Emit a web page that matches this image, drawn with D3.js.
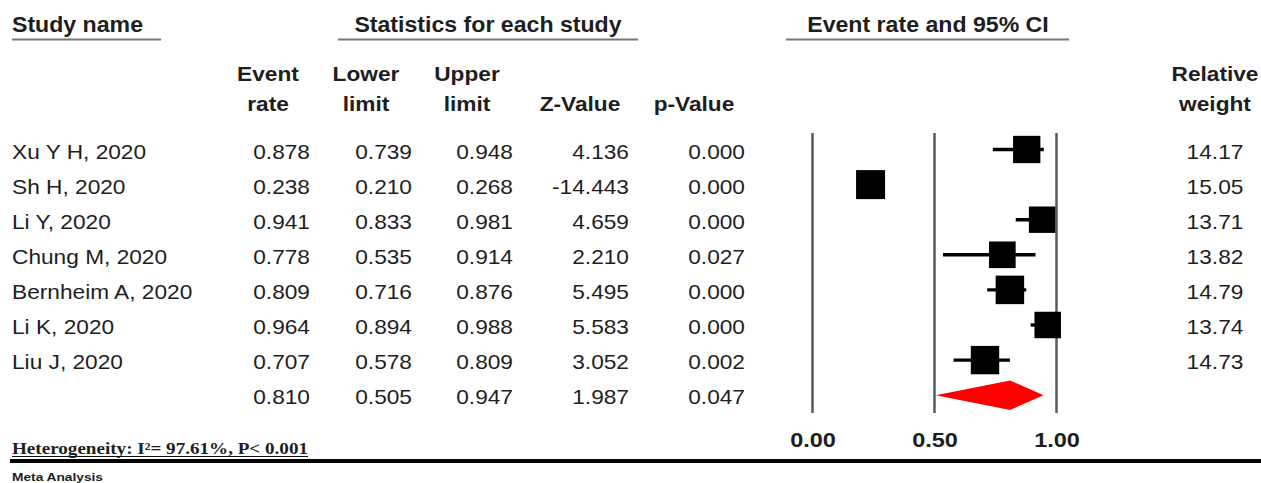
<!DOCTYPE html>
<html><head><meta charset="utf-8">
<script src="https://cdn.jsdelivr.net/npm/d3@7"></script>
<style>
html,body{margin:0;padding:0;background:#fff;}
svg{display:block;}
text{font-family:"Liberation Sans",Arial,sans-serif;fill:#1e1e1e;}
</style></head>
<body>
<script>
const studies = ["Xu Y H, 2020","Sh H, 2020","Li Y, 2020","Chung M, 2020","Bernheim A, 2020","Li K, 2020","Liu J, 2020"];
const eventRate = [0.878,0.238,0.941,0.778,0.809,0.964,0.707];
const lowerLimit = [0.739,0.210,0.833,0.535,0.716,0.894,0.578];
const upperLimit = [0.948,0.268,0.981,0.914,0.876,0.988,0.809];
const zValue = [4.136,-14.443,4.659,2.210,5.495,5.583,3.052];
const pValue = [0.000,0.000,0.000,0.027,0.000,0.000,0.002];
const weight = [14.17,15.05,13.71,13.82,14.79,13.74,14.73];
const summary = {rate:0.810, lower:0.505, upper:0.947, z:1.987, p:0.047};
const axisTicks = [0.00,0.50,1.00];
const heterogeneity = "Heterogeneity: I\u00B2= 97.61%, P< 0.001";
const footer = "Meta Analysis";

const W=1261,H=483;
const svg=d3.select("body").append("svg").attr("width",W).attr("height",H);

const x=d3.scaleLinear().domain([0,1]).range([812.5,1056.5]);
const rowY=d3.scaleLinear().domain([0,7]).range([149.5,395.2]);
const boxSize=d3.scaleLinear().domain([0,15.05]).range([0,29]);
const fmt3=v=>d3.format(".3f")(v).replace("\u2212","-");

function stretch(sel,k){
  sel.each(function(){
    const L=this.getComputedTextLength();
    d3.select(this).attr("textLength",L*k).attr("lengthAdjust","spacingAndGlyphs");
  });
}

// section headers
const hdr=[{t:"Study name",x:12,anchor:"start",l1:12,l2:161},
           {t:"Statistics for each study",x:488,anchor:"middle",l1:338,l2:638},
           {t:"Event rate and 95% CI",x:928,anchor:"middle",l1:786,l2:1069}];
hdr.forEach(h=>{
  svg.append("text").attr("class","sh").attr("x",h.x).attr("y",32).attr("text-anchor",h.anchor)
    .style("font-size","21.5px").style("font-weight","bold").text(h.t);
  svg.append("line").attr("x1",h.l1).attr("x2",h.l2).attr("y1",39.5).attr("y2",39.5)
    .attr("stroke","#777").attr("stroke-width",2);
});
stretch(svg.selectAll("text.sh"),1.075);

// column headers
const cols=[{h:["Event","rate"],cx:268,rx:310,vals:eventRate.map(fmt3),s:fmt3(summary.rate)},
            {h:["Lower","limit"],cx:366,rx:412,vals:lowerLimit.map(fmt3),s:fmt3(summary.lower)},
            {h:["Upper","limit"],cx:467,rx:513,vals:upperLimit.map(fmt3),s:fmt3(summary.upper)},
            {h:["","Z-Value"],cx:580,rx:629,vals:zValue.map(fmt3),s:fmt3(summary.z)},
            {h:["","p-Value"],cx:694,rx:745,vals:pValue.map(fmt3),s:fmt3(summary.p)}];
cols.forEach(c=>{
  c.h.forEach((t,i)=>{ if(t) svg.append("text").attr("class","st").attr("x",c.cx).attr("y",81+i*29.5)
     .attr("text-anchor","middle").style("font-size","21px").style("font-weight","bold").text(t);});
  c.vals.concat([c.s]).forEach((v,i)=>{
    svg.append("text").attr("class","st").attr("x",c.rx).attr("y",rowY(i)+9).attr("text-anchor","end")
      .style("font-size","21px").text(v);
  });
});
["Relative","weight"].forEach((t,i)=>svg.append("text").attr("class","st").attr("x",1215).attr("y",81+i*29.5)
  .attr("text-anchor","middle").style("font-size","21px").style("font-weight","bold").text(t));
weight.forEach((w,i)=>svg.append("text").attr("class","st").attr("x",1215).attr("y",rowY(i)+9)
  .attr("text-anchor","middle").style("font-size","21px").text(d3.format(".2f")(w)));

// study names
studies.forEach((s,i)=>svg.append("text").attr("class","st").attr("x",12).attr("y",rowY(i)+9)
  .style("font-size","21px").text(s));

stretch(svg.selectAll("text.st"),1.08);

// vertical reference lines
svg.selectAll("line.ref").data(axisTicks).enter().append("line").attr("class","ref")
  .attr("x1",d=>x(d)).attr("x2",d=>x(d)).attr("y1",133).attr("y2",413)
  .attr("stroke","#5a5a5a").attr("stroke-width",2.5);

// axis
const axisG=svg.append("g").attr("transform","translate(0,446.5)")
  .call(d3.axisBottom(x).tickValues(axisTicks).tickFormat(d3.format(".2f")).tickSize(0).tickPadding(0));
axisG.select(".domain").remove();
axisG.selectAll("text").attr("dy",0).style("font-size","21px").style("font-weight","bold")
  .style("font-family","'Liberation Sans',Arial,sans-serif").attr("fill","#1e1e1e");
stretch(axisG.selectAll("text"),1.12);

// CI lines and boxes
const g=svg.append("g");
studies.forEach((s,i)=>{
  g.append("line").attr("x1",x(lowerLimit[i])).attr("x2",x(upperLimit[i]))
    .attr("y1",rowY(i)).attr("y2",rowY(i)).attr("stroke","#000").attr("stroke-width",3.4);
  const b=boxSize(weight[i]);
  g.append("rect").attr("x",x(eventRate[i])-b/2).attr("y",rowY(i)-b/2)
    .attr("width",b).attr("height",b).attr("fill","#000");
});
// summary diamond
const cy=rowY(7),dh=14.7;
g.append("path").attr("d",d3.line()([[x(summary.lower),cy],[x(summary.rate),cy-dh],[x(summary.upper),cy],[x(summary.rate),cy+dh]])+"Z")
  .attr("fill","#ff0000");

// heterogeneity + footer
svg.append("text").attr("x",12).attr("y",453.5).attr("textLength",296).attr("lengthAdjust","spacingAndGlyphs")
  .style("font-family","'Liberation Serif','Times New Roman',serif").style("font-size","16px").style("font-weight","bold")
  .text(heterogeneity);
svg.append("line").attr("x1",12).attr("x2",308).attr("y1",456.5).attr("y2",456.5).attr("stroke","#111").attr("stroke-width",1);
svg.append("line").attr("x1",10).attr("x2",W).attr("y1",461).attr("y2",461).attr("stroke","#000").attr("stroke-width",4);
svg.append("text").attr("x",12).attr("y",480.5).attr("textLength",91).attr("lengthAdjust","spacingAndGlyphs")
  .style("font-size","10px").style("font-weight","bold").text(footer);
</script>
</body></html>
